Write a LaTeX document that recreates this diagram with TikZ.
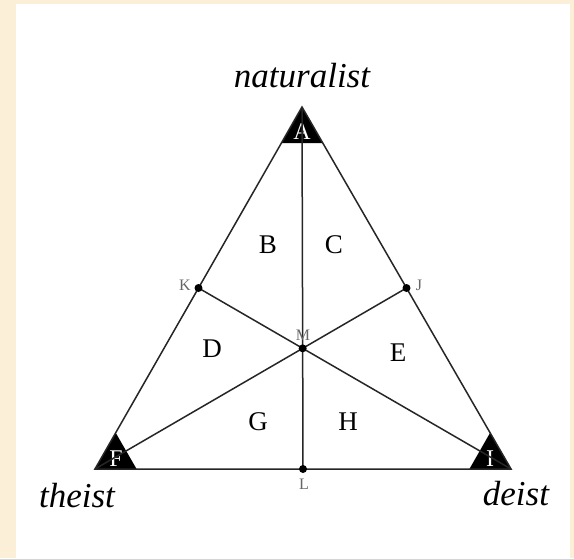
\documentclass[tikz,border=0pt]{standalone}
\usepackage{fontspec}
\setmainfont{Liberation Serif}
\usetikzlibrary{calc}
\definecolor{cream}{HTML}{FCEFD8}
\begin{document}
\begin{tikzpicture}[x=1pt, y=-1pt,
  edge/.style={line width=1.5pt, black!85},
  region/.style={font=\fontsize{27}{27}\selectfont},
  corner/.style={text=white, font=\fontsize{24}{24}\selectfont},
  point/.style={text=black!60, font=\fontsize{16}{16}\selectfont, inner sep=0pt},
  pole/.style={font=\fontsize{35}{35}\selectfont\itshape}]
  \fill[cream] (0,0) rectangle (574,558);
  \fill[white] (16,4) rectangle (570,558);
  \useasboundingbox (0,0) rectangle (574,558);

  \coordinate (A) at (302,107);
  \coordinate (F) at (95,469);
  \coordinate (I) at (511,469);
  \coordinate (K) at ($(A)!0.5!(F)$);
  \coordinate (J) at ($(A)!0.5!(I)$);
  \coordinate (L) at ($(F)!0.5!(I)$);
  \coordinate (M) at ($(A)!0.6667!(L)$);

  % corner triangles
  \fill (A) -- ($(A)!0.1!(F)$) -- ($(A)!0.1!(I)$) -- cycle;
  \fill (F) -- ($(F)!0.1!(A)$) -- ($(F)!0.1!(I)$) -- cycle;
  \fill (I) -- ($(I)!0.1!(A)$) -- ($(I)!0.1!(F)$) -- cycle;

  \node[corner] (a) at (302,132) {A};
  \node[corner] (f) at (116,459) {F};
  \node[corner] (i) at (490,459) {I};

  \draw[edge] (A) -- (F) -- (I) -- cycle;
  \draw[edge] (A) -- (L);
  \draw[edge] (K) -- (I);
  \draw[edge] (J) -- (F);

  \foreach \p in {K,J,M,L}
    \fill (\p) circle (4);

  \node[point] (k) at (185,285) {K};
  \node[point] (j) at (419,285) {J};
  \node[point] (m) at (303,335) {M};
  \node[point] (l) at (304,484) {L};

  \node[region] (b) at (268,245) {B};
  \node[region] (c) at (334,245) {C};
  \node[region] (d) at (212,349) {D};
  \node[region] (e) at (398,353) {E};
  \node[region] (g) at (258,422) {G};
  \node[region] (h) at (348,422) {H};

  \node[pole, anchor=base] (naturalist) at (302,87) {naturalist};
  \node[pole, anchor=base] (theist) at (77,507) {theist};
  \node[pole, anchor=base] (deist) at (516,505) {deist};
\end{tikzpicture}
\end{document}
